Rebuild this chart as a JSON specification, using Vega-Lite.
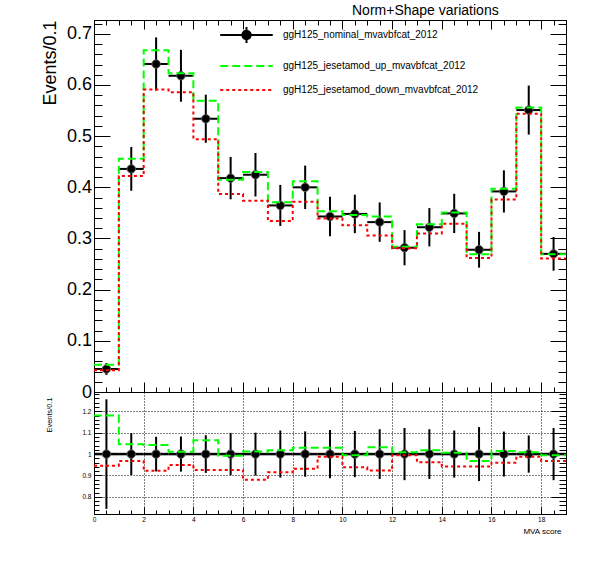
{
  "$schema": "https://vega.github.io/schema/vega-lite/v6.json",
  "autosize": "none",
  "padding": {"left": 94, "top": 20, "right": 502, "bottom": 552},
  "background": "white",
  "spacing": 0,
  "bounds": "flush",
  "datasets": {
    "bins": [
      {"lo": 0, "hi": 1, "c": 0.5, "n": 0.045, "nlo": 0.0335, "nhi": 0.0565, "r": 1, "rlo": 0.744, "rhi": 1.256},
      {"lo": 1, "hi": 2, "c": 1.5, "n": 0.436, "nlo": 0.3933, "nhi": 0.4787, "r": 1, "rlo": 0.902, "rhi": 1.098},
      {"lo": 2, "hi": 3, "c": 2.5, "n": 0.641, "nlo": 0.589, "nhi": 0.693, "r": 1, "rlo": 0.919, "rhi": 1.081},
      {"lo": 3, "hi": 4, "c": 3.5, "n": 0.618, "nlo": 0.5673, "nhi": 0.6687, "r": 1, "rlo": 0.918, "rhi": 1.082},
      {"lo": 4, "hi": 5, "c": 4.5, "n": 0.534, "nlo": 0.487, "nhi": 0.581, "r": 1, "rlo": 0.912, "rhi": 1.088},
      {"lo": 5, "hi": 6, "c": 5.5, "n": 0.418, "nlo": 0.3766, "nhi": 0.4594, "r": 1, "rlo": 0.901, "rhi": 1.099},
      {"lo": 6, "hi": 7, "c": 6.5, "n": 0.4246, "nlo": 0.3821, "nhi": 0.4671, "r": 1, "rlo": 0.9, "rhi": 1.1},
      {"lo": 7, "hi": 8, "c": 7.5, "n": 0.3646, "nlo": 0.3245, "nhi": 0.4047, "r": 1, "rlo": 0.89, "rhi": 1.11},
      {"lo": 8, "hi": 9, "c": 8.5, "n": 0.4, "nlo": 0.3576, "nhi": 0.4424, "r": 1, "rlo": 0.894, "rhi": 1.106},
      {"lo": 9, "hi": 10, "c": 9.5, "n": 0.343, "nlo": 0.3042, "nhi": 0.3818, "r": 1, "rlo": 0.887, "rhi": 1.113},
      {"lo": 10, "hi": 11, "c": 10.5, "n": 0.348, "nlo": 0.3104, "nhi": 0.3856, "r": 1, "rlo": 0.892, "rhi": 1.108},
      {"lo": 11, "hi": 12, "c": 11.5, "n": 0.332, "nlo": 0.2935, "nhi": 0.3705, "r": 1, "rlo": 0.884, "rhi": 1.116},
      {"lo": 12, "hi": 13, "c": 12.5, "n": 0.282, "nlo": 0.2476, "nhi": 0.3164, "r": 1, "rlo": 0.878, "rhi": 1.122},
      {"lo": 13, "hi": 14, "c": 13.5, "n": 0.322, "nlo": 0.2846, "nhi": 0.3594, "r": 1, "rlo": 0.884, "rhi": 1.116},
      {"lo": 14, "hi": 15, "c": 14.5, "n": 0.349, "nlo": 0.3106, "nhi": 0.3874, "r": 1, "rlo": 0.89, "rhi": 1.11},
      {"lo": 15, "hi": 16, "c": 15.5, "n": 0.278, "nlo": 0.243, "nhi": 0.313, "r": 1, "rlo": 0.874, "rhi": 1.126},
      {"lo": 16, "hi": 17, "c": 16.5, "n": 0.392, "nlo": 0.3508, "nhi": 0.4332, "r": 1, "rlo": 0.895, "rhi": 1.105},
      {"lo": 17, "hi": 18, "c": 17.5, "n": 0.551, "nlo": 0.5031, "nhi": 0.5989, "r": 1, "rlo": 0.913, "rhi": 1.087},
      {"lo": 18, "hi": 19, "c": 18.5, "n": 0.27, "nlo": 0.2371, "nhi": 0.3029, "r": 1, "rlo": 0.878, "rhi": 1.122}
    ],
    "steps": [
      {"x": 0, "s": "ggH125_jesetamod_up_mvavbfcat_2012", "v": 0.0531, "r": 1.18},
      {"x": 1, "s": "ggH125_jesetamod_up_mvavbfcat_2012", "v": 0.456, "r": 1.046},
      {"x": 2, "s": "ggH125_jesetamod_up_mvavbfcat_2012", "v": 0.668, "r": 1.042},
      {"x": 3, "s": "ggH125_jesetamod_up_mvavbfcat_2012", "v": 0.623, "r": 1.011},
      {"x": 4, "s": "ggH125_jesetamod_up_mvavbfcat_2012", "v": 0.569, "r": 1.065},
      {"x": 5, "s": "ggH125_jesetamod_up_mvavbfcat_2012", "v": 0.415, "r": 0.992},
      {"x": 6, "s": "ggH125_jesetamod_up_mvavbfcat_2012", "v": 0.43, "r": 1.012},
      {"x": 7, "s": "ggH125_jesetamod_up_mvavbfcat_2012", "v": 0.371, "r": 1.018},
      {"x": 8, "s": "ggH125_jesetamod_up_mvavbfcat_2012", "v": 0.412, "r": 1.029},
      {"x": 9, "s": "ggH125_jesetamod_up_mvavbfcat_2012", "v": 0.353, "r": 1.029},
      {"x": 10, "s": "ggH125_jesetamod_up_mvavbfcat_2012", "v": 0.346, "r": 0.995},
      {"x": 11, "s": "ggH125_jesetamod_up_mvavbfcat_2012", "v": 0.343, "r": 1.032},
      {"x": 12, "s": "ggH125_jesetamod_up_mvavbfcat_2012", "v": 0.284, "r": 1.008},
      {"x": 13, "s": "ggH125_jesetamod_up_mvavbfcat_2012", "v": 0.328, "r": 1.018},
      {"x": 14, "s": "ggH125_jesetamod_up_mvavbfcat_2012", "v": 0.351, "r": 1.006},
      {"x": 15, "s": "ggH125_jesetamod_up_mvavbfcat_2012", "v": 0.269, "r": 0.968},
      {"x": 16, "s": "ggH125_jesetamod_up_mvavbfcat_2012", "v": 0.397, "r": 1.014},
      {"x": 17, "s": "ggH125_jesetamod_up_mvavbfcat_2012", "v": 0.556, "r": 1.009},
      {"x": 18, "s": "ggH125_jesetamod_up_mvavbfcat_2012", "v": 0.269, "r": 0.995},
      {"x": 19, "s": "ggH125_jesetamod_up_mvavbfcat_2012", "v": 0.269, "r": 0.995},
      {"x": 0, "s": "ggH125_jesetamod_down_mvavbfcat_2012", "v": 0.0426, "r": 0.946},
      {"x": 1, "s": "ggH125_jesetamod_down_mvavbfcat_2012", "v": 0.422, "r": 0.968},
      {"x": 2, "s": "ggH125_jesetamod_down_mvavbfcat_2012", "v": 0.591, "r": 0.922},
      {"x": 3, "s": "ggH125_jesetamod_down_mvavbfcat_2012", "v": 0.586, "r": 0.949},
      {"x": 4, "s": "ggH125_jesetamod_down_mvavbfcat_2012", "v": 0.494, "r": 0.926},
      {"x": 5, "s": "ggH125_jesetamod_down_mvavbfcat_2012", "v": 0.387, "r": 0.926},
      {"x": 6, "s": "ggH125_jesetamod_down_mvavbfcat_2012", "v": 0.374, "r": 0.88},
      {"x": 7, "s": "ggH125_jesetamod_down_mvavbfcat_2012", "v": 0.334, "r": 0.915},
      {"x": 8, "s": "ggH125_jesetamod_down_mvavbfcat_2012", "v": 0.372, "r": 0.931},
      {"x": 9, "s": "ggH125_jesetamod_down_mvavbfcat_2012", "v": 0.339, "r": 0.988},
      {"x": 10, "s": "ggH125_jesetamod_down_mvavbfcat_2012", "v": 0.326, "r": 0.938},
      {"x": 11, "s": "ggH125_jesetamod_down_mvavbfcat_2012", "v": 0.306, "r": 0.923},
      {"x": 12, "s": "ggH125_jesetamod_down_mvavbfcat_2012", "v": 0.281, "r": 0.995},
      {"x": 13, "s": "ggH125_jesetamod_down_mvavbfcat_2012", "v": 0.31, "r": 0.962},
      {"x": 14, "s": "ggH125_jesetamod_down_mvavbfcat_2012", "v": 0.329, "r": 0.942},
      {"x": 15, "s": "ggH125_jesetamod_down_mvavbfcat_2012", "v": 0.262, "r": 0.942},
      {"x": 16, "s": "ggH125_jesetamod_down_mvavbfcat_2012", "v": 0.376, "r": 0.96},
      {"x": 17, "s": "ggH125_jesetamod_down_mvavbfcat_2012", "v": 0.544, "r": 0.988},
      {"x": 18, "s": "ggH125_jesetamod_down_mvavbfcat_2012", "v": 0.261, "r": 0.968},
      {"x": 19, "s": "ggH125_jesetamod_down_mvavbfcat_2012", "v": 0.261, "r": 0.968}
    ]
  },
  "resolve": {"scale": {"color": "independent", "strokeDash": "independent", "x": "independent", "y": "independent"}},
  "vconcat": [
    {
      "width": 472,
      "height": 372,
      "data": {"name": "bins"},
      "title": {"text": "Norm+Shape variations", "anchor": "start", "frame": "group", "dx": 258, "offset": -3, "fontSize": 14, "fontWeight": "normal", "font": "Liberation Sans", "color": "black"},
      "resolve": {"axis": {"x": "independent", "y": "independent"}},
      "layer": [
        {
          "mark": {"type": "rule", "color": "black", "strokeWidth": 2},
          "encoding": {
            "x": {"field": "c", "type": "quantitative", "scale": {"domain": [0, 19], "nice": false, "zero": false},
              "axis": {"orient": "bottom", "values": [0,0.5,1,1.5,2,2.5,3,3.5,4,4.5,5,5.5,6,6.5,7,7.5,8,8.5,9,9.5,10,10.5,11,11.5,12,12.5,13,13.5,14,14.5,15,15.5,16,16.5,17,17.5,18,18.5,19],
                "labels": false, "title": null, "grid": false,
                "tickSize": {"condition": {"test": "abs(datum.value/2-round(datum.value/2))<0.001", "value": -10}, "value": -5}}},
            "y": {"field": "nlo", "type": "quantitative", "scale": {"domain": [0, 0.727], "nice": false, "zero": false},
              "axis": {"orient": "left", "values": [0,0.02,0.04,0.06,0.08,0.1,0.12,0.14,0.16,0.18,0.2,0.22,0.24,0.26,0.28,0.3,0.32,0.34,0.36,0.38,0.4,0.42,0.44,0.46,0.48,0.5,0.52,0.54,0.56,0.58,0.6,0.62,0.64,0.66,0.68,0.7,0.72],
                "labelExpr": "abs(datum.value*10-round(datum.value*10))<0.001 ? (datum.value<0.001 ? '0' : format(datum.value,'.1f')) : ''",
                "labelFontSize": 18, "labelPadding": 18.5, "grid": false,
                "tickSize": {"condition": {"test": "abs(datum.value*10-round(datum.value*10))<0.001", "value": -16}, "value": -8},
                "title": "Events/0.1", "titleFontSize": 18, "titleAngle": -90, "titleAlign": "right", "titleBaseline": "alphabetic", "titleX": -39, "titleY": 0}},
            "y2": {"field": "nhi"}
          }
        },
        {
          "mark": {"type": "rule", "color": "black", "strokeWidth": 2},
          "encoding": {
            "x": {"field": "lo", "type": "quantitative",
              "axis": {"orient": "top", "values": [0,0.5,1,1.5,2,2.5,3,3.5,4,4.5,5,5.5,6,6.5,7,7.5,8,8.5,9,9.5,10,10.5,11,11.5,12,12.5,13,13.5,14,14.5,15,15.5,16,16.5,17,17.5,18,18.5,19],
                "labels": false, "title": null, "grid": false,
                "tickSize": {"condition": {"test": "abs(datum.value/2-round(datum.value/2))<0.001", "value": -9}, "value": -5}}},
            "x2": {"field": "hi"},
            "y": {"field": "n", "type": "quantitative",
              "axis": {"orient": "right", "values": [0,0.02,0.04,0.06,0.08,0.1,0.12,0.14,0.16,0.18,0.2,0.22,0.24,0.26,0.28,0.3,0.32,0.34,0.36,0.38,0.4,0.42,0.44,0.46,0.48,0.5,0.52,0.54,0.56,0.58,0.6,0.62,0.64,0.66,0.68,0.7,0.72],
                "labels": false, "title": null, "grid": false,
                "tickSize": {"condition": {"test": "abs(datum.value*10-round(datum.value*10))<0.001", "value": -16}, "value": -8}}}
          }
        },
        {
          "mark": {"type": "point", "filled": true, "shape": "circle", "size": 70, "color": "black", "stroke": "#555555", "strokeWidth": 1, "opacity": 1},
          "encoding": {
            "x": {"field": "c", "type": "quantitative", "axis": null},
            "y": {"field": "n", "type": "quantitative", "axis": null}
          }
        },
        {
          "data": {"name": "steps"},
          "mark": {"type": "line", "interpolate": "step-after", "strokeWidth": 2},
          "encoding": {
            "x": {"field": "x", "type": "quantitative", "axis": null},
            "y": {"field": "v", "type": "quantitative", "axis": null},
            "color": {"field": "s", "type": "nominal",
              "scale": {"domain": ["ggH125_nominal_mvavbfcat_2012", "ggH125_jesetamod_up_mvavbfcat_2012", "ggH125_jesetamod_down_mvavbfcat_2012"], "range": ["black", "#00ff00", "#ff0000"]},
              "legend": {"orient": "none", "legendX": 141, "legendY": 3.5, "title": null, "padding": 0,
                "symbolType": "M-2.5,0H2.5", "symbolSize": 441, "symbolStrokeWidth": 2, "symbolFillColor": "black",
                "labelFont": "Liberation Sans", "labelFontSize": 10, "labelColor": "black", "labelOffset": 25, "labelLimit": 300, "rowPadding": 7,
                "encode": {"symbols": {"update": {
                  "shape": {"signal": "datum.value === 'ggH125_nominal_mvavbfcat_2012' ? 'M-2.5,0H2.5M0,-0.76V0.76M0.4,0A0.4,0.4,0,1,1,-0.4,0A0.4,0.4,0,1,1,0.4,0' : 'M-2.5,0H2.5'"},
                  "fill": {"value": "black"}}}}}},
            "strokeDash": {"field": "s", "type": "nominal",
              "scale": {"domain": ["ggH125_nominal_mvavbfcat_2012", "ggH125_jesetamod_up_mvavbfcat_2012", "ggH125_jesetamod_down_mvavbfcat_2012"], "range": [[1, 0], [8, 4], [3, 3]]}}
          }
        }
      ]
    },
    {
      "width": 472,
      "height": 122,
      "data": {"name": "bins"},
      "resolve": {"axis": {"x": "independent", "y": "independent"}},
      "layer": [
        {
          "mark": {"type": "rule", "color": "black", "strokeWidth": 2},
          "encoding": {
            "x": {"field": "c", "type": "quantitative", "scale": {"domain": [0, 19], "nice": false, "zero": false},
              "axis": {"orient": "bottom", "values": [0,0.5,1,1.5,2,2.5,3,3.5,4,4.5,5,5.5,6,6.5,7,7.5,8,8.5,9,9.5,10,10.5,11,11.5,12,12.5,13,13.5,14,14.5,15,15.5,16,16.5,17,17.5,18,18.5,19],
                "labelExpr": "abs(datum.value/2-round(datum.value/2))<0.001 && datum.value<18.5 ? format(datum.value,'d') : ''",
                "labelFontSize": 6.5, "labelPadding": 9.5,
                "grid": true, "gridColor": "black", "gridDash": [1, 2], "gridWidth": 1,
                "gridOpacity": {"condition": {"test": "abs(datum.value/2-round(datum.value/2))<0.001", "value": 1}, "value": 0},
                "tickSize": {"condition": {"test": "abs(datum.value/2-round(datum.value/2))<0.001", "value": -7}, "value": -4},
                "title": "MVA score", "titleFontSize": 8, "titleAlign": "right", "titleBaseline": "alphabetic", "titleX": 467, "titleY": 19}},
            "y": {"field": "rlo", "type": "quantitative", "scale": {"domain": [0.72, 1.29], "nice": false, "zero": false},
              "axis": {"orient": "left", "values": [0.72,0.74,0.76,0.78,0.8,0.82,0.84,0.86,0.88,0.9,0.92,0.94,0.96,0.98,1,1.02,1.04,1.06,1.08,1.1,1.12,1.14,1.16,1.18,1.2,1.22,1.24,1.26,1.28],
                "labelExpr": "abs(datum.value*10-round(datum.value*10))<0.001 ? (abs(datum.value-1)<0.001 ? '1' : format(datum.value,'.1f')) : ''",
                "labelFontSize": 6.5, "labelPadding": 11,
                "grid": true, "gridColor": "black", "gridDash": [1, 2], "gridWidth": 1,
                "gridOpacity": {"condition": {"test": "abs(datum.value*10-round(datum.value*10))<0.001", "value": 1}, "value": 0},
                "tickSize": {"condition": {"test": "abs(datum.value*10-round(datum.value*10))<0.001", "value": -8}, "value": -5},
                "title": "Events/0.1", "titleFontSize": 7.4, "titleAngle": -90, "titleAlign": "right", "titleBaseline": "alphabetic", "titleX": -43, "titleY": 5}},
            "y2": {"field": "rhi"}
          }
        },
        {
          "mark": {"type": "rule", "color": "black", "strokeWidth": 2.5},
          "encoding": {
            "x": {"field": "lo", "type": "quantitative", "axis": null},
            "x2": {"field": "hi"},
            "y": {"field": "r", "type": "quantitative",
              "axis": {"orient": "right", "values": [0.72,0.74,0.76,0.78,0.8,0.82,0.84,0.86,0.88,0.9,0.92,0.94,0.96,0.98,1,1.02,1.04,1.06,1.08,1.1,1.12,1.14,1.16,1.18,1.2,1.22,1.24,1.26,1.28],
                "labels": false, "title": null, "grid": false,
                "tickSize": {"condition": {"test": "abs(datum.value*10-round(datum.value*10))<0.001", "value": -15}, "value": -7}}}
          }
        },
        {
          "mark": {"type": "point", "filled": true, "shape": "circle", "size": 70, "color": "black", "stroke": "#555555", "strokeWidth": 1, "opacity": 1},
          "encoding": {
            "x": {"field": "c", "type": "quantitative", "axis": null},
            "y": {"field": "r", "type": "quantitative", "axis": null}
          }
        },
        {
          "data": {"name": "steps"},
          "mark": {"type": "line", "interpolate": "step-after", "strokeWidth": 2},
          "encoding": {
            "x": {"field": "x", "type": "quantitative", "axis": null},
            "y": {"field": "r", "type": "quantitative", "axis": null},
            "color": {"field": "s", "type": "nominal",
              "scale": {"domain": ["ggH125_nominal_mvavbfcat_2012", "ggH125_jesetamod_up_mvavbfcat_2012", "ggH125_jesetamod_down_mvavbfcat_2012"], "range": ["black", "#00ff00", "#ff0000"]},
              "legend": null},
            "strokeDash": {"field": "s", "type": "nominal",
              "scale": {"domain": ["ggH125_nominal_mvavbfcat_2012", "ggH125_jesetamod_up_mvavbfcat_2012", "ggH125_jesetamod_down_mvavbfcat_2012"], "range": [[1, 0], [8, 4], [3, 3]]},
              "legend": null}
          }
        }
      ]
    }
  ],
  "config": {
    "font": "Liberation Sans",
    "view": {"stroke": "black", "strokeWidth": 1},
    "axis": {"domainColor": "black", "domainWidth": 1, "tickColor": "black", "tickWidth": 1, "labelColor": "black", "labelFont": "Liberation Sans", "titleFont": "Liberation Sans", "titleColor": "black", "titleFontWeight": "normal", "labelOverlap": false, "labelFlush": false, "labelBound": false}
  }
}
